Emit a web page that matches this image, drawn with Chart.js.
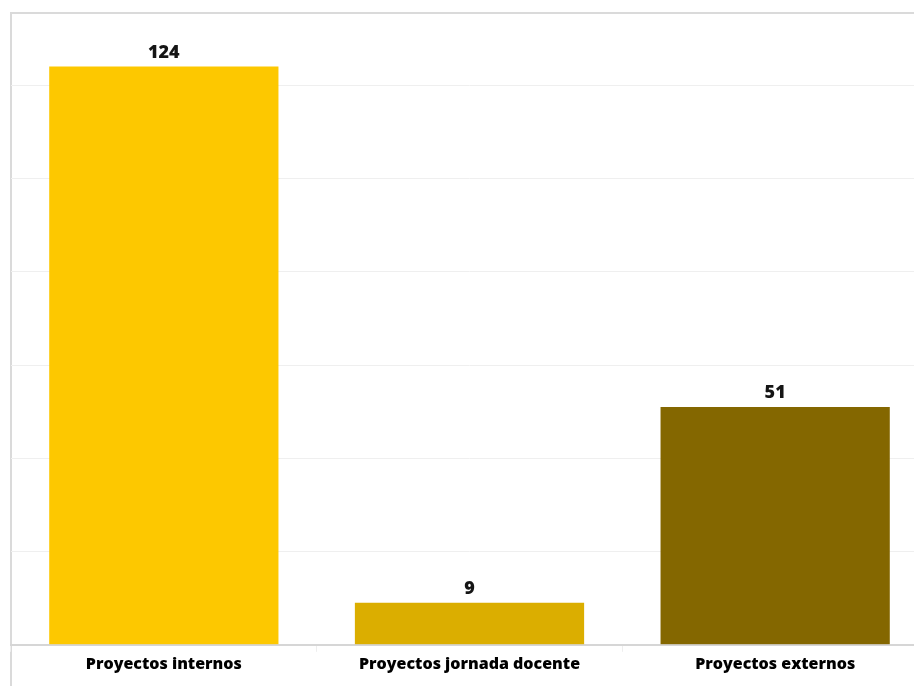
<!DOCTYPE html>
<html>
<head>
<meta charset="utf-8">
<script src="https://cdn.jsdelivr.net/npm/chart.js@4"></script>
<style>
  html, body { margin: 0; padding: 0; background: #fff; overflow: hidden; }
  #wrap { position: absolute; left: 0; top: 0; width: 940px; height: 686px; }
</style>
</head>
<body>
<div id="wrap"><canvas id="chart" width="940" height="686"></canvas></div>
<script>
// data
const categories = ['Proyectos internos', 'Proyectos jornada docente', 'Proyectos externos'];
const values = [124, 9, 51];
const barColors = ['#FDC800', '#DBAE00', '#846700'];

// frame lines (top + left) like the original panel
const framePlugin = {
    id: 'frame',
    beforeDraw(chart) {
        const ctx = chart.ctx;
        ctx.save();
        ctx.strokeStyle = '#dadada';
        ctx.lineWidth = 2;
        ctx.beginPath();
        ctx.moveTo(11, 686);
        ctx.lineTo(11, 13);
        ctx.lineTo(940, 13);
        ctx.stroke();
        ctx.restore();
    }
};

// value labels above each bar
const valueLabels = {
    id: 'valueLabels',
    afterDatasetsDraw(chart) {
        const ctx = chart.ctx;
        const meta = chart.getDatasetMeta(0);
        ctx.save();
        ctx.font = '800 18px "Open Sans"';
        ctx.fillStyle = '#151515';
        ctx.textAlign = 'center';
        ctx.textBaseline = 'alphabetic';
        meta.data.forEach((bar, i) => {
            ctx.fillText(values[i], bar.x, bar.y - 9);
        });
        ctx.restore();
    }
};

new Chart(document.getElementById('chart').getContext('2d'), {
    type: 'bar',
    data: {
        labels: categories,
        datasets: [{
            data: values,
            backgroundColor: barColors,
            barPercentage: 0.75,
            categoryPercentage: 1.0
        }]
    },
    options: {
        responsive: false,
        animation: false,
        layout: { padding: { left: 11, top: 13, right: 12, bottom: 9 } },
        plugins: {
            legend: { display: false },
            tooltip: { enabled: false }
        },
        scales: {
            x: {
                border: { color: '#d6d6d6', width: 2 },
                grid: { drawOnChartArea: false, color: '#eeeeee', tickLength: 7 },
                ticks: {
                    color: '#000',
                    font: { family: '"Open Sans"', size: 16, weight: '800' },
                    padding: 3
                }
            },
            y: {
                min: 0,
                max: 135.5,
                border: { display: false },
                grid: { color: '#efefef', drawTicks: false },
                ticks: { display: false, stepSize: 20 },
                afterBuildTicks(axis) {
                    axis.ticks = axis.ticks.filter(t => t.value % 20 === 0);
                }
            }
        }
    },
    plugins: [framePlugin, valueLabels]
});
</script>
</body>
</html>
